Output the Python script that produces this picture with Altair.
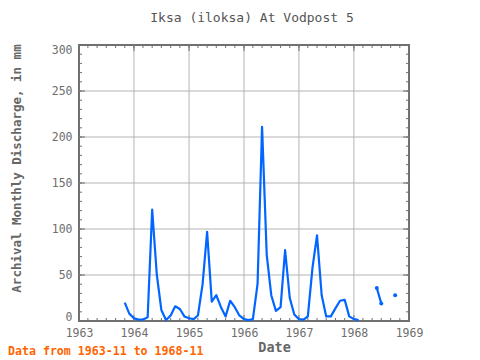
import altair as alt
import pandas as pd

TITLE = "Iksa (iloksa) At Vodpost 5"
Y_TITLE = "Archival Monthly Discharge, in mm"
X_TITLE = "Date"
NOTE = "Data from 1963-11 to 1968-11"

months = pd.date_range("1963-11-01", "1968-11-01", freq="MS").strftime("%Y/%m/%d").tolist()
discharge = [
    20, 8,
    3, 1.5, 1.5, 4, 121, 50, 12, 1, 6, 16, 13, 5,
    3, 2, 6, 40, 97, 21, 28, 15, 5, 22, 15, 6,
    2, 1, 2, 40, 211, 72, 28, 11, 15, 77, 25, 7,
    2, 1.5, 5, 58, 93, 28, 5, 5, 14, 22, 23, 5,
    2, 1, None, None, None, 36, 19, None, None, 28, None,
]
year_labels = list(range(1963, 1970))
year_grid = list(range(1964, 1969))
y_labels = list(range(0, 301, 50))
y_grid = list(range(50, 300, 50))
x_minor = pd.date_range("1963-01-01", "1969-01-01", freq="2MS").strftime("%Y/%m/%d").tolist()
y_minor = list(range(0, 301, 10))

MONO = "DejaVu Sans Mono"
W, H = 330, 276
LINE = "#0066ff"
FRAME = "#707070"
GRID = "#b4b4b4"

# segments: break the line at missing months
rows = []
seg = 0
for d, v in zip(months, discharge):
    if v is None:
        seg += 1
        continue
    rows.append({"date": d, "q": v, "seg": seg})
df = pd.DataFrame(rows)
sizes = df.groupby("seg")["q"].transform("size")
pts = df[sizes < 3]

xscale = alt.Scale(domain=[alt.DateTime(year=1963, month=1, date=1),
                           alt.DateTime(year=1969, month=1, date=1)])
yscale = alt.Scale(domain=[0, 300], nice=False)

x_axis = alt.Axis(
    values=[alt.DateTime(year=y, month=1, date=1) for y in year_labels],
    format="%Y", title=X_TITLE, grid=False, domain=False, ticks=False, tickSize=0,
    labelPadding=6, labelFont=MONO, labelFontSize=11.5, labelColor="#6e6e6e",
    labelOverlap=False, labelFlush=False,
    titleFont=MONO, titleFontSize=13.5, titleFontWeight="bold", titleColor="#666666",
    titleX=195, titleY=26, titleAlign="center", titleBaseline="middle",
)
y_axis = alt.Axis(
    values=y_labels, title=Y_TITLE, grid=False, domain=False, ticks=False, tickSize=0,
    labelPadding=7, labelFont=MONO, labelFontSize=11.5, labelColor="#6e6e6e",
    labelOverlap=False, labelFlush=True, labelFlushOffset=1,
    titleFont=MONO, titleFontSize=12.5, titleFontWeight="bold", titleColor="#666666",
    titleX=-63, titleY=123, titleAngle=270, titleAlign="center", titleBaseline="middle",
)

def X():
    return alt.X("date:T", scale=xscale, axis=x_axis)

def Y():
    return alt.Y("q:Q", scale=yscale, axis=y_axis)

xg = pd.DataFrame({"date": [f"{y}/01/01" for y in year_grid]})
yg = pd.DataFrame({"q": y_grid})
xmin = pd.DataFrame({"date": x_minor})
xmaj = pd.DataFrame({"date": [f"{y}/01/01" for y in year_labels]})
ymin = pd.DataFrame({"q": y_minor})
ymaj = pd.DataFrame({"q": y_labels})

def xrule(data, y0, y1, color=FRAME):
    return alt.Chart(data).mark_rule(color=color, strokeWidth=1).encode(
        x=X(), y=alt.value(y0), y2=alt.value(y1))

def yrule(data, x0, x1, color=FRAME):
    return alt.Chart(data).mark_rule(color=color, strokeWidth=1).encode(
        y=Y(), x=alt.value(x0), x2=alt.value(x1))

grid_x = xrule(xg, 0, H, GRID)
grid_y = yrule(yg, 0, W, GRID)
ticks = [
    xrule(xmin, 0, 3), xrule(xmaj, 0, 6),
    xrule(xmin, H, H - 3), xrule(xmaj, H, H - 6),
    yrule(ymin, 0, 3), yrule(ymaj, 0, 6),
    yrule(ymin, W, W - 3), yrule(ymaj, W, W - 6),
]

line = alt.Chart(df).mark_line(color=LINE, strokeWidth=2.2, strokeJoin="round").encode(
    x=X(), y=Y(), detail="seg:N",
)
dots = alt.Chart(pts).mark_circle(color=LINE, size=16, opacity=1).encode(x=X(), y=Y())

note = alt.Chart(pd.DataFrame({"note": [NOTE]})).mark_text(
    align="left", baseline="middle", font=MONO, fontSize=11.6, fontWeight="bold",
    color="#ff6400").encode(text="note:N", x=alt.value(-71), y=alt.value(307))

chart = alt.layer(grid_x, grid_y, *ticks, line, dots, note).properties(
    width=W, height=H,
    title=alt.TitleParams(TITLE, font=MONO, fontSize=13, fontWeight="normal",
                          color="#555555", anchor="middle", dx=8, offset=19),
    autosize=alt.AutoSizeParams(type="none"),
    padding={"left": 71, "top": 37, "right": 63, "bottom": 37},
).configure_view(stroke=FRAME, strokeWidth=2)

chart.save("out.html", embed_options={"renderer": "svg", "actions": False})
